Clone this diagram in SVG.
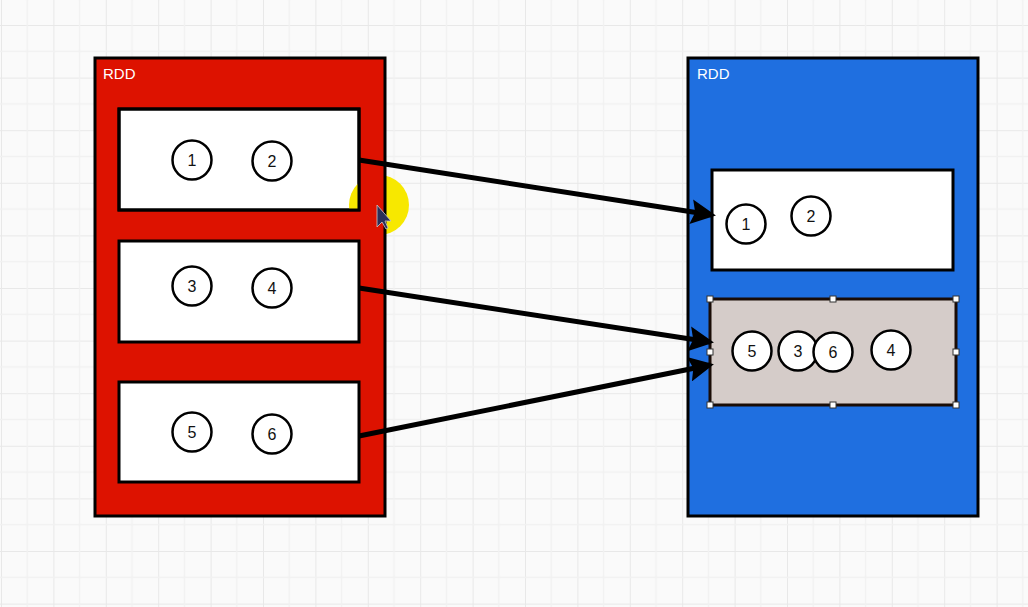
<svg xmlns="http://www.w3.org/2000/svg" width="1028" height="607" viewBox="0 0 1028 607">
<defs>
<pattern id="grid" x="1" y="25" width="52.4" height="52.6" patternUnits="userSpaceOnUse">
<path d="M0 0H52.4M0 0V52.6" stroke="#e8e8e8" stroke-width="2" fill="none"/>
<path d="M0 26.3H52.4M26.2 0V52.6" stroke="#f1f1f1" stroke-width="1.5" fill="none"/>
</pattern>
<marker id="ah" markerWidth="5" markerHeight="5" refX="4.2" refY="2.5" orient="auto" markerUnits="strokeWidth">
<path d="M0 0L5 2.5L0 5L0.8 2.5Z" fill="#000"/>
</marker>
<clipPath id="clipw"><rect x="119" y="109" width="240" height="101"/></clipPath>
</defs>
<style>
.lbl{font-family:"Liberation Sans",Arial,sans-serif;font-size:15px;fill:#fff}
.num{font-family:"Liberation Sans",Arial,sans-serif;font-size:16px;fill:#111;text-anchor:middle;dominant-baseline:central}
.c{fill:#fff;stroke:#000;stroke-width:2.5}
.part{fill:#fff;stroke:#000;stroke-width:3}
.h{fill:#fff;stroke:#333;stroke-width:1}
.conn{stroke:#000;stroke-width:5;fill:none;marker-end:url(#ah)}
.hl{fill:#f7e800}
</style>
<rect width="1028" height="607" fill="#fafafa"/>
<rect width="1028" height="607" fill="url(#grid)"/>
<circle class="hl" cx="379" cy="205" r="30"/>

<g id="rdd-left">
<rect x="95" y="58" width="290" height="458" fill="#dd1200" stroke="#000" stroke-width="3"/>
<text class="lbl" x="103" y="79">RDD</text>
</g>
<g id="left-p1">
<rect class="part" x="119" y="109" width="240" height="101"/>
<circle class="hl" cx="379" cy="205" r="30" clip-path="url(#clipw)"/>
<rect x="119" y="109" width="240" height="101" fill="none" stroke="#000" stroke-width="3"/>
<circle class="c" cx="192" cy="160" r="19.5"/><text class="num" x="192" y="160">1</text>
<circle class="c" cx="272" cy="161" r="19.5"/><text class="num" x="272" y="161">2</text>
</g>
<g id="left-p2">
<rect class="part" x="119" y="241" width="240" height="101"/>
<circle class="c" cx="192" cy="286" r="19.5"/><text class="num" x="192" y="286">3</text>
<circle class="c" cx="272" cy="288" r="19.5"/><text class="num" x="272" y="288">4</text>
</g>
<g id="left-p3">
<rect class="part" x="119" y="382" width="240" height="100"/>
<circle class="c" cx="192" cy="432" r="19.5"/><text class="num" x="192" y="432">5</text>
<circle class="c" cx="272" cy="434" r="19.5"/><text class="num" x="272" y="434">6</text>
</g>

<g id="rdd-right">
<rect x="688" y="58" width="290" height="458" fill="#1f6fe0" stroke="#000" stroke-width="3"/>
<text class="lbl" x="697" y="79">RDD</text>
</g>
<g id="right-p1">
<rect class="part" x="712" y="170" width="241" height="100"/>
<circle class="c" cx="746" cy="224" r="19.5"/><text class="num" x="746" y="224">1</text>
<circle class="c" cx="811" cy="216" r="19.5"/><text class="num" x="811" y="216">2</text>
</g>
<g id="right-p2">
<rect x="710" y="299" width="246" height="106" fill="#d5ccc9" stroke="#1a0c06" stroke-width="3"/>
<circle class="c" cx="752" cy="351" r="19.5"/><text class="num" x="752" y="351">5</text>
<circle class="c" cx="798" cy="351" r="19.5"/><text class="num" x="798" y="351">3</text>
<circle class="c" cx="833" cy="352" r="19.5"/><text class="num" x="833" y="352">6</text>
<circle class="c" cx="891" cy="350" r="19.5"/><text class="num" x="891" y="350">4</text>
<rect class="h" x="707" y="296" width="6" height="6"/>
<rect class="h" x="830" y="296" width="6" height="6"/>
<rect class="h" x="953" y="296" width="6" height="6"/>
<rect class="h" x="707" y="349" width="6" height="6"/>
<rect class="h" x="953" y="349" width="6" height="6"/>
<rect class="h" x="707" y="402" width="6" height="6"/>
<rect class="h" x="830" y="402" width="6" height="6"/>
<rect class="h" x="953" y="402" width="6" height="6"/>
</g>

<g id="connectors">
<line class="conn" x1="359" y1="160" x2="712" y2="215"/>
<line class="conn" x1="359" y1="288" x2="710" y2="342"/>
<line class="conn" x1="359" y1="436" x2="710" y2="365"/>
</g>

<path d="M377 205L377 227L382 222L386 229L388 228L385 221L391 221Z" fill="#2a2f5a" stroke="#ccc" stroke-width="0.8"/>
</svg>
